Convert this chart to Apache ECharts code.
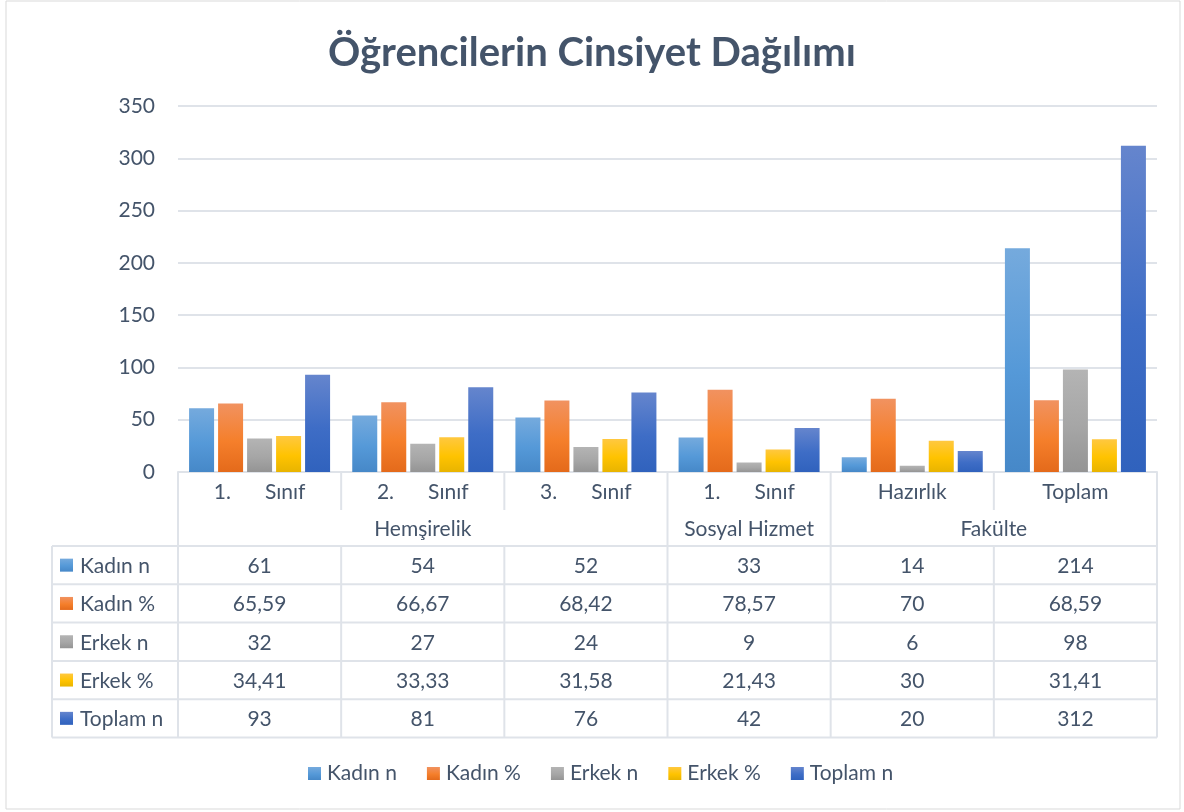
<!DOCTYPE html>
<html>
<head>
<meta charset="utf-8">
<script src="https://cdn.jsdelivr.net/npm/echarts@6/dist/echarts.min.js"></script>
<style>
html,body{margin:0;padding:0;background:#fff;}
#c{width:1184px;height:812px;}
</style>
</head>
<body>
<div id="c"></div>
<script>
const titleText = 'Öğrencilerin Cinsiyet Dağılımı';
const categories = ['1. Sınıf', '2. Sınıf', '3. Sınıf', '1. Sınıf', 'Hazırlık', 'Toplam'];
const groupNames = ['Hemşirelik', 'Sosyal Hizmet', 'Fakülte'];
const groupSpans = [[0, 2], [3, 3], [4, 5]];
const seriesNames = ['Kadın n', 'Kadın %', 'Erkek n', 'Erkek %', 'Toplam n'];
const kadinN = [61, 54, 52, 33, 14, 214];
const kadinPct = [65.59, 66.67, 68.42, 78.57, 70, 68.59];
const erkekN = [32, 27, 24, 9, 6, 98];
const erkekPct = [34.41, 33.33, 31.58, 21.43, 30, 31.41];
const toplamN = [93, 81, 76, 42, 20, 312];

const seriesData = [kadinN, kadinPct, erkekN, erkekPct, toplamN];
const gradStops = [
  ['#75aadd', '#5599d8', '#4688c8'],
  ['#f19260', '#f57f2b', '#e46a1b'],
  ['#b4b4b4', '#a6a6a6', '#949494'],
  ['#ffc840', '#ffc300', '#e8b400'],
  ['#6585cd', '#3e6dc6', '#3062bd']
];
const textColor = '#44546a';
const lineColor = '#dfe3e9';
const FONT = 'Lato, "Open Sans", sans-serif';
const FS = 21;

function grad(stops) {
  return new echarts.graphic.LinearGradient(0, 0, 0, 1, [
    {offset: 0, color: stops[0]}, {offset: 0.55, color: stops[1]}, {offset: 1, color: stops[2]}
  ]);
}

const chart = echarts.init(document.getElementById('c'), null, {renderer: 'canvas'});
const option = {
  animation: false,
  backgroundColor: '#fff',
  textStyle: {fontFamily: FONT},
  title: {
    text: titleText, left: 'center', top: 28,
    textStyle: {fontSize: 40, fontWeight: 'bold', color: textColor, fontFamily: FONT}
  },
  legend: {
    bottom: 23, left: 303, icon: 'rect', itemWidth: 13, itemHeight: 13, itemGap: 30,
    textStyle: {fontSize: FS, color: textColor, fontFamily: FONT, padding: [0, 0, 0, 1]},
    data: seriesNames
  },
  grid: {left: 178, right: 27, top: 106, bottom: 340, containLabel: false},
  xAxis: {
    type: 'category', data: categories,
    axisLine: {show: true, lineStyle: {color: lineColor, width: 2}},
    axisTick: {show: false},
    axisLabel: {
      show: true, fontSize: FS, color: textColor, margin: 10, fontFamily: FONT, interval: 0,
      formatter: function (v) {
        const m = /^(\d\.)\s+(.*)$/.exec(v);
        return m ? '{t|' + m[1] + '}{sp|}{t|' + m[2] + '}' : '{t|' + v + '}';
      },
      rich: {
        t: {fontSize: FS, color: textColor, fontFamily: FONT},
        sp: {width: 34}
      }
    }
  },
  yAxis: {
    type: 'value', min: 0, max: 350, interval: 50,
    axisLine: {show: false}, axisTick: {show: false},
    axisLabel: {fontSize: FS, color: textColor, margin: 23, fontFamily: FONT},
    splitLine: {lineStyle: {color: lineColor, width: 2}}
  },
  series: seriesNames.map((n, i) => ({
    name: n, type: 'bar', data: seriesData[i], barWidth: 25, barGap: '16%',
    itemStyle: {color: grad(gradStops[i])}
  }))
};
chart.setOption(option);

// build data table via computed axis positions
const n = categories.length;
const x0 = chart.convertToPixel({xAxisIndex: 0}, 0);
const x1 = chart.convertToPixel({xAxisIndex: 0}, 1);
const colW = x1 - x0;
const left = x0 - colW / 2;
const right = left + colW * n;
const yZero = chart.convertToPixel({yAxisIndex: 0}, 0);
const rowAEnd = yZero + 38;
const tableTop = yZero + 74;
const rowH = 38.3;
const tableLeft = 52;
const tableBottom = tableTop + rowH * 5;
const g = [];
function line(x1_, y1_, x2_, y2_) {
  g.push({type: 'line', shape: {x1: x1_, y1: y1_, x2: x2_, y2: y2_}, style: {stroke: lineColor, lineWidth: 2}, silent: true});
}
function text(x, y, s, align) {
  g.push({type: 'text', x: x, y: y, style: {text: s, fill: textColor, font: FS + 'px ' + FONT, textAlign: align || 'center', textVerticalAlign: 'middle'}, silent: true});
}
const groupStarts = groupSpans.map(s => s[0]);
for (let b = 0; b <= n; b++) {
  const x = left + b * colW;
  if (b === 0 || b === n || groupStarts.includes(b)) {
    line(x, yZero, x, tableBottom);
  } else {
    line(x, yZero, x, rowAEnd);
    line(x, tableTop, x, tableBottom);
  }
}
line(tableLeft, tableTop, tableLeft, tableBottom);
for (let r = 0; r <= 5; r++) {
  const y = tableTop + r * rowH;
  line(tableLeft, y, right, y);
}
groupNames.forEach((name, i) => {
  const cx = left + (groupSpans[i][0] + groupSpans[i][1] + 1) / 2 * colW;
  text(cx, yZero + 57, name);
});
seriesNames.forEach((name, r) => {
  const cy = tableTop + (r + 0.5) * rowH;
  g.push({type: 'rect', shape: {x: 60, y: cy - 6.5, width: 13, height: 13}, style: {fill: grad(gradStops[r])}, silent: true});
  text(80, cy + 1, name, 'left');
  seriesData[r].forEach((v, c) => {
    text(left + (c + 0.5) * colW, cy + 1, String(v).replace('.', ','));
  });
});
g.push({type: 'rect', shape: {x: 6, y: 1, width: 1174, height: 808}, style: {fill: 'none', stroke: '#d9d9d9', lineWidth: 1}, silent: true});
chart.setOption({graphic: g});
</script>
</body>
</html>
